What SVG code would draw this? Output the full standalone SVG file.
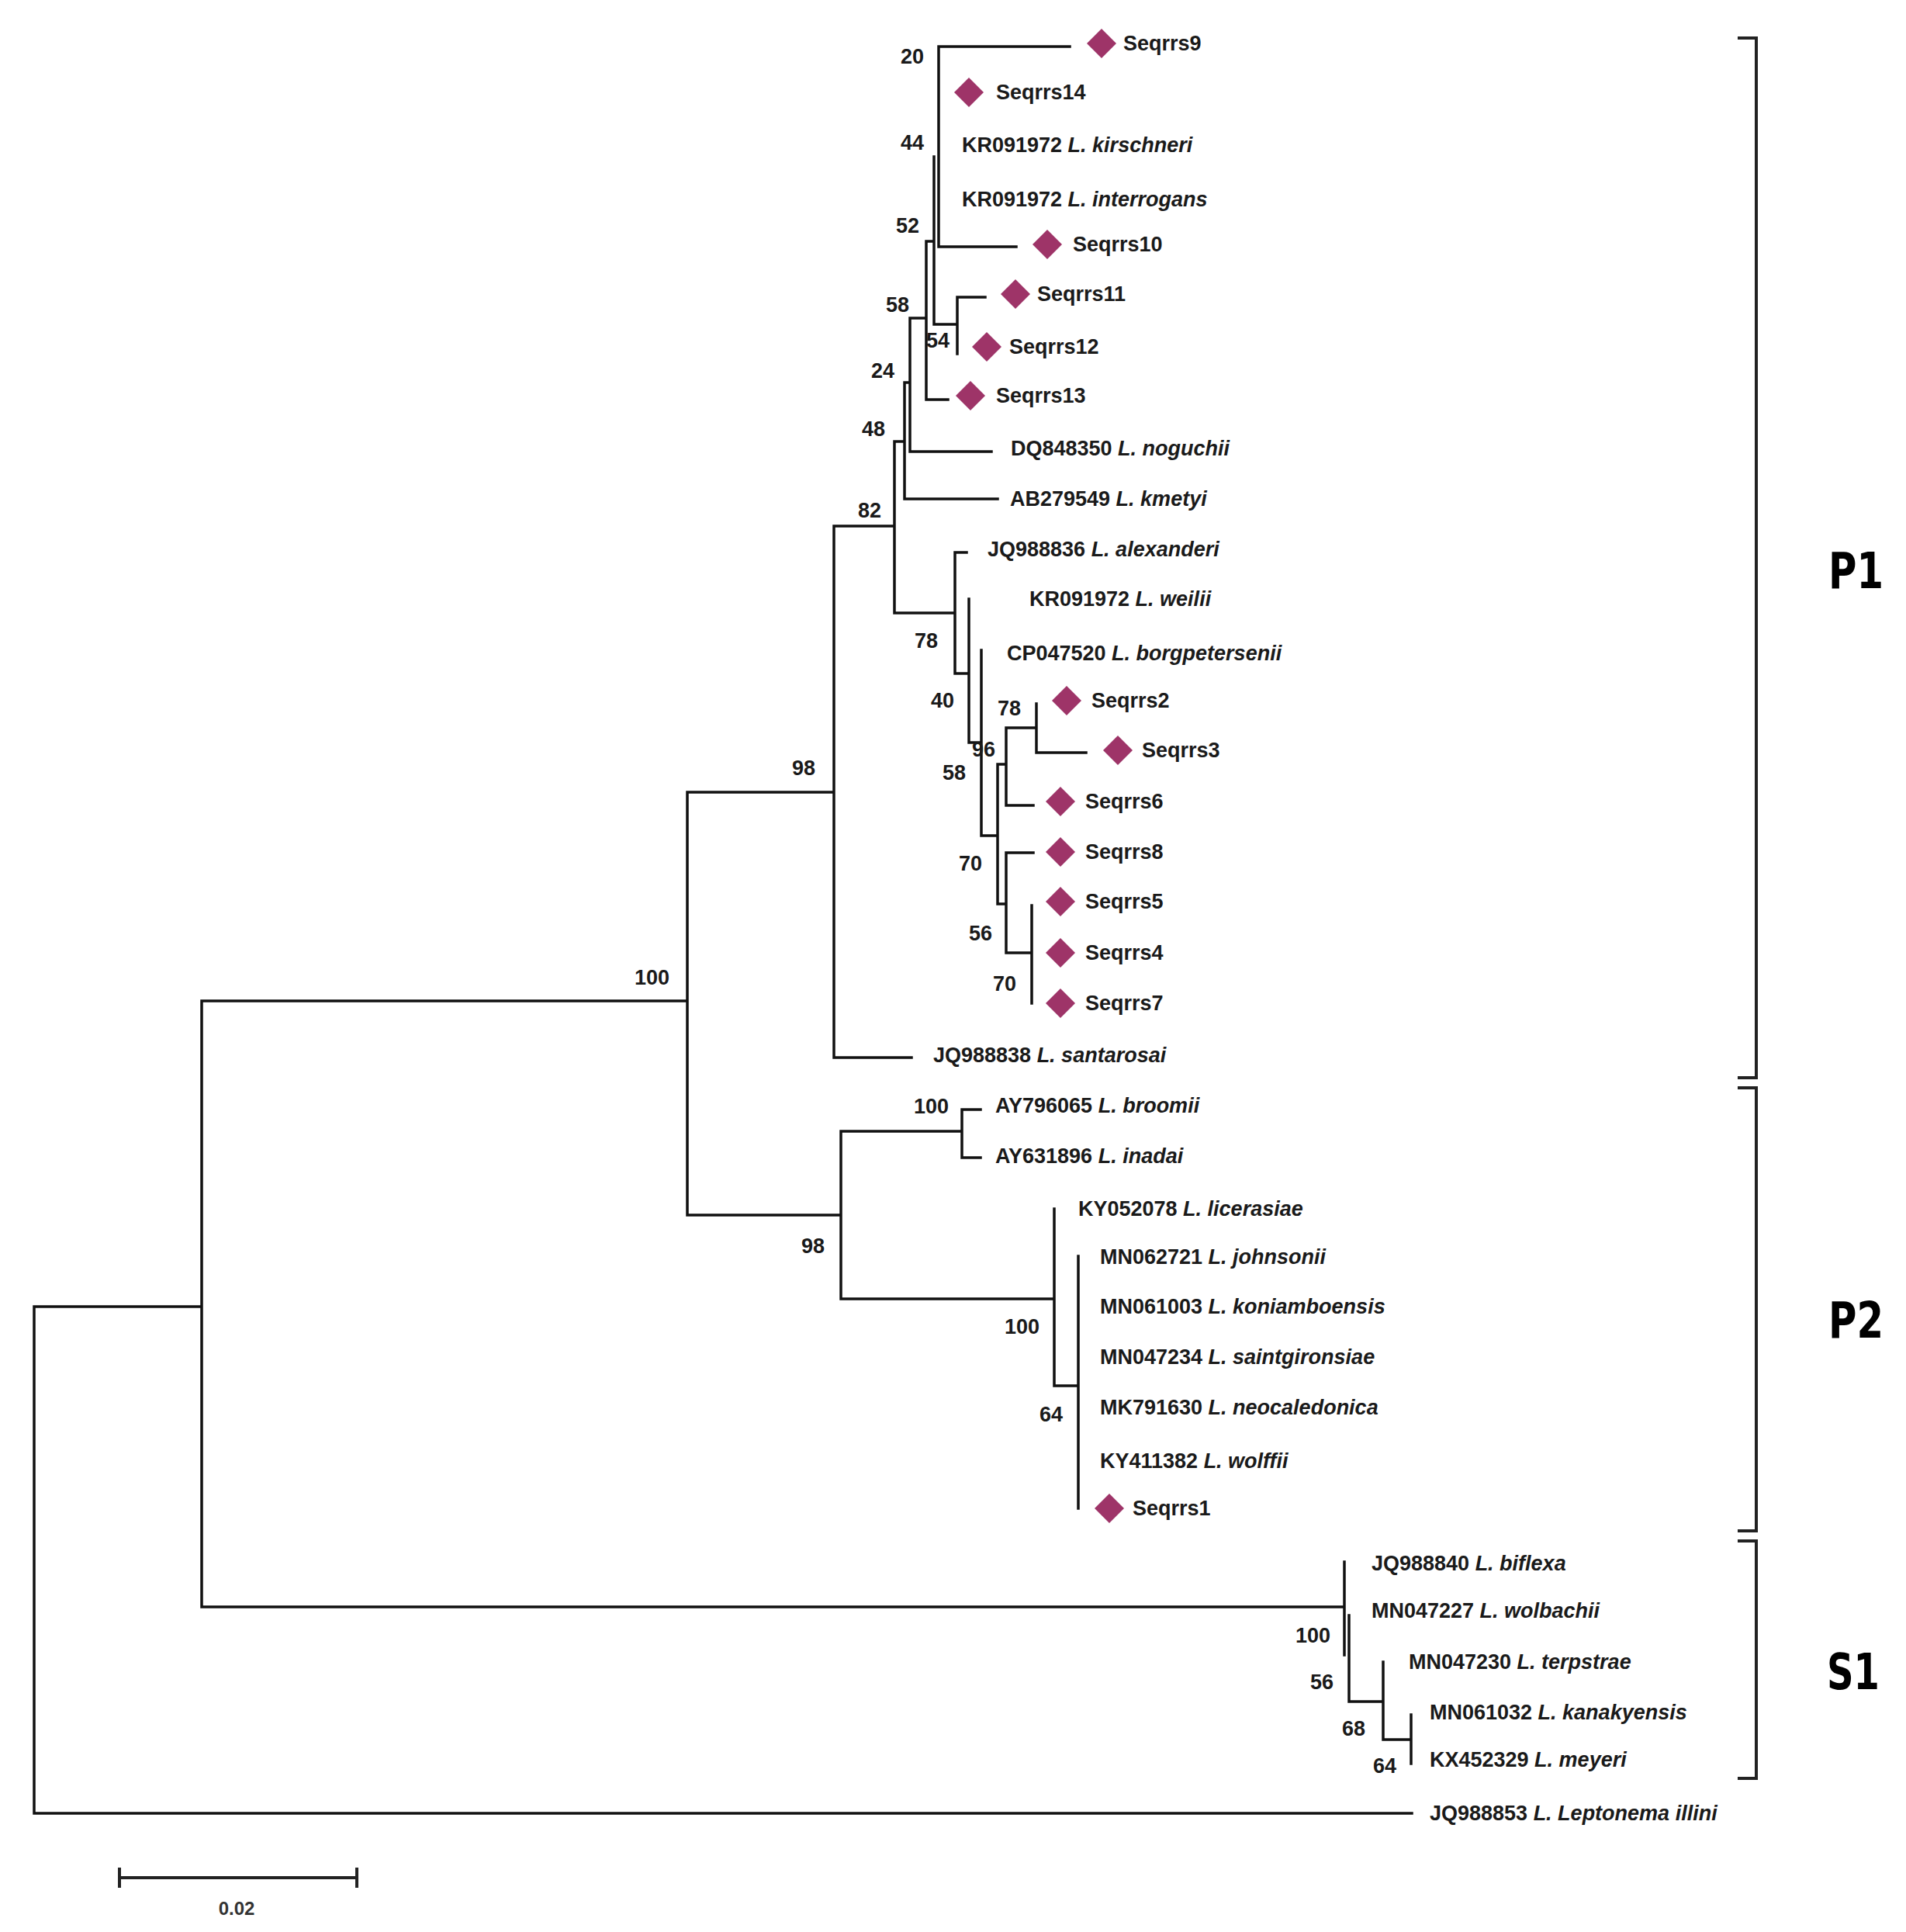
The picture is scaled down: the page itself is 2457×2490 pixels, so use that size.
<svg xmlns="http://www.w3.org/2000/svg" xmlns:xlink="http://www.w3.org/1999/xlink" width="2457" height="2490" viewBox="0 0 2457 2490">
<style>
.br{fill:none;stroke:#111;stroke-width:3.5;stroke-linecap:square}
.bk{fill:none;stroke:#222;stroke-width:4;stroke-linecap:butt}
.tx{font-family:"Liberation Sans",Arial,sans-serif;font-size:27px;font-weight:bold;fill:#1a1a1a}
.it{font-style:italic}
.bs{font-family:"Liberation Sans",Arial,sans-serif;font-size:27px;font-weight:bold;fill:#1a1a1a}
.cl{font-family:"DejaVu Sans",Verdana,sans-serif;font-size:64px;font-weight:bold;fill:#000}
.sc{font-family:"Liberation Sans",Arial,sans-serif;font-size:24px;font-weight:bold;fill:#333}
.dm{fill:#9e3468}
</style>
<defs>
<path id="dia" class="dm" d="M0 -19 L19 0 L0 19 L-19 0 Z"/>
</defs>
<rect width="2457" height="2490" fill="#fff"/>
<g id="connectors">
<path class="br" d="M44 1684 V2337 M44 1684 H260 M44 2337 H1820
M260 1290 V2071 M260 1290 H886 M260 2071 H1733
M886 1021 V1566 M886 1021 H1075 M886 1566 H1084
M1075 678 V1363 M1075 678 H1153 M1075 1363 H1175
M1153 569 V790 M1153 569 H1166 M1153 790 H1231
M1166 493 V643 H1286 M1166 493 H1173
M1173 410 V582 H1278 M1173 410 H1194
M1194 311 V515 H1222 M1194 311 H1203
M1204 202 V418 H1234
M1210 60 V318 H1310 M1210 60 H1379
M1234 383 V456 M1234 383 H1270
M1231 712 V868 H1249 M1231 712 H1246
M1249 772 V957 H1265
M1265 838 V1077 H1286
M1286 985 V1165 H1297 M1286 985 H1297
M1297 938 V1038 H1332 M1297 938 H1336
M1336 907 V970 H1400
M1297 1099 V1228 H1330 M1297 1099 H1332
M1330 1167 V1293
M1084 1458 V1674 H1359 M1084 1458 H1240
M1240 1430 V1492 H1264 M1240 1430 H1264
M1359 1558 V1786 H1390
M1390 1619 V1944
M1733 2013 V2133 M1739 2082 V2193 H1783
M1783 2142 V2242 H1819
M1819 2210 V2273"/>
</g>
<g id="brackets">
<path class="bk" d="M2240 49 H2264 V1389 H2240"/>
<path class="bk" d="M2240 1402 H2264 V1973 H2240"/>
<path class="bk" d="M2240 1986 H2264 V2292 H2240"/>
<text class="cl" x="2357" y="758" textLength="71" lengthAdjust="spacingAndGlyphs">P1</text>
<text class="cl" x="2357" y="1724" textLength="71" lengthAdjust="spacingAndGlyphs">P2</text>
<text class="cl" x="2355" y="2177" textLength="68" lengthAdjust="spacingAndGlyphs">S1</text>
</g>
<g id="bootstrap" class="bs">
<text x="1161" y="82">20</text>
<text x="1161" y="193">44</text>
<text x="1155" y="300">52</text>
<text x="1142" y="402">58</text>
<text x="1194" y="448">54</text>
<text x="1123" y="487">24</text>
<text x="1111" y="562">48</text>
<text x="1106" y="667">82</text>
<text x="1021" y="999">98</text>
<text x="818" y="1269">100</text>
<text x="1179" y="835">78</text>
<text x="1200" y="912">40</text>
<text x="1286" y="922">78</text>
<text x="1253" y="975">96</text>
<text x="1215" y="1005">58</text>
<text x="1236" y="1122">70</text>
<text x="1249" y="1212">56</text>
<text x="1280" y="1277">70</text>
<text x="1178" y="1435">100</text>
<text x="1033" y="1615">98</text>
<text x="1295" y="1719">100</text>
<text x="1340" y="1832">64</text>
<text x="1670" y="2117">100</text>
<text x="1689" y="2177">56</text>
<text x="1730" y="2237">68</text>
<text x="1770" y="2285">64</text>
</g>
<g id="t-seqrrs9"><use xlink:href="#dia" x="1420" y="56"/><text class="tx" x="1448" y="65">Seqrrs9</text></g>
<g id="t-seqrrs14"><use xlink:href="#dia" x="1249" y="119"/><text class="tx" x="1284" y="128">Seqrrs14</text></g>
<g id="t-kirschneri"><text class="tx" x="1240" y="196">KR091972 <tspan class="it">L. kirschneri</tspan></text></g>
<g id="t-interrogans"><text class="tx" x="1240" y="266">KR091972 <tspan class="it">L. interrogans</tspan></text></g>
<g id="t-seqrrs10"><use xlink:href="#dia" x="1350" y="315"/><text class="tx" x="1383" y="324">Seqrrs10</text></g>
<g id="t-seqrrs11"><use xlink:href="#dia" x="1309" y="379"/><text class="tx" x="1337" y="388">Seqrrs11</text></g>
<g id="t-seqrrs12"><use xlink:href="#dia" x="1272" y="447"/><text class="tx" x="1301" y="456">Seqrrs12</text></g>
<g id="t-seqrrs13"><use xlink:href="#dia" x="1251" y="510"/><text class="tx" x="1284" y="519">Seqrrs13</text></g>
<g id="t-noguchii"><text class="tx" x="1303" y="587">DQ848350 <tspan class="it">L. noguchii</tspan></text></g>
<g id="t-kmetyi"><text class="tx" x="1302" y="652">AB279549 <tspan class="it">L. kmetyi</tspan></text></g>
<g id="t-alexanderi"><text class="tx" x="1273" y="717">JQ988836 <tspan class="it">L. alexanderi</tspan></text></g>
<g id="t-weilii"><text class="tx" x="1327" y="781">KR091972 <tspan class="it">L. weilii</tspan></text></g>
<g id="t-borgpetersenii"><text class="tx" x="1298" y="851">CP047520 <tspan class="it">L. borgpetersenii</tspan></text></g>
<g id="t-seqrrs2"><use xlink:href="#dia" x="1375" y="903"/><text class="tx" x="1407" y="912">Seqrrs2</text></g>
<g id="t-seqrrs3"><use xlink:href="#dia" x="1441" y="967"/><text class="tx" x="1472" y="976">Seqrrs3</text></g>
<g id="t-seqrrs6"><use xlink:href="#dia" x="1367" y="1033"/><text class="tx" x="1399" y="1042">Seqrrs6</text></g>
<g id="t-seqrrs8"><use xlink:href="#dia" x="1367" y="1098"/><text class="tx" x="1399" y="1107">Seqrrs8</text></g>
<g id="t-seqrrs5"><use xlink:href="#dia" x="1367" y="1162"/><text class="tx" x="1399" y="1171">Seqrrs5</text></g>
<g id="t-seqrrs4"><use xlink:href="#dia" x="1367" y="1228"/><text class="tx" x="1399" y="1237">Seqrrs4</text></g>
<g id="t-seqrrs7"><use xlink:href="#dia" x="1367" y="1293"/><text class="tx" x="1399" y="1302">Seqrrs7</text></g>
<g id="t-santarosai"><text class="tx" x="1203" y="1369">JQ988838 <tspan class="it">L. santarosai</tspan></text></g>
<g id="t-broomii"><text class="tx" x="1283" y="1434">AY796065 <tspan class="it">L. broomii</tspan></text></g>
<g id="t-inadai"><text class="tx" x="1283" y="1499">AY631896 <tspan class="it">L. inadai</tspan></text></g>
<g id="t-licerasiae"><text class="tx" x="1390" y="1567">KY052078 <tspan class="it">L. licerasiae</tspan></text></g>
<g id="t-johnsonii"><text class="tx" x="1418" y="1629">MN062721 <tspan class="it">L. johnsonii</tspan></text></g>
<g id="t-koniamboensis"><text class="tx" x="1418" y="1693">MN061003 <tspan class="it">L. koniamboensis</tspan></text></g>
<g id="t-saintgironsiae"><text class="tx" x="1418" y="1758">MN047234 <tspan class="it">L. saintgironsiae</tspan></text></g>
<g id="t-neocaledonica"><text class="tx" x="1418" y="1823">MK791630 <tspan class="it">L. neocaledonica</tspan></text></g>
<g id="t-wolffii"><text class="tx" x="1418" y="1892">KY411382 <tspan class="it">L. wolffii</tspan></text></g>
<g id="t-seqrrs1"><use xlink:href="#dia" x="1430" y="1944"/><text class="tx" x="1460" y="1953">Seqrrs1</text></g>
<g id="t-biflexa"><text class="tx" x="1768" y="2024">JQ988840 <tspan class="it">L. biflexa</tspan></text></g>
<g id="t-wolbachii"><text class="tx" x="1768" y="2085">MN047227 <tspan class="it">L. wolbachii</tspan></text></g>
<g id="t-terpstrae"><text class="tx" x="1816" y="2151">MN047230 <tspan class="it">L. terpstrae</tspan></text></g>
<g id="t-kanakyensis"><text class="tx" x="1843" y="2216">MN061032 <tspan class="it">L. kanakyensis</tspan></text></g>
<g id="t-meyeri"><text class="tx" x="1843" y="2277">KX452329 <tspan class="it">L. meyeri</tspan></text></g>
<g id="t-leptonema"><text class="tx" x="1843" y="2346">JQ988853 <tspan class="it">L. Leptonema illini</tspan></text></g>
<g id="scale-bar">
<path class="bk" d="M154 2420 H460 M154 2407 V2433 M460 2407 V2433"/>
<text class="sc" x="305" y="2468" text-anchor="middle">0.02</text>
</g>
</svg>
